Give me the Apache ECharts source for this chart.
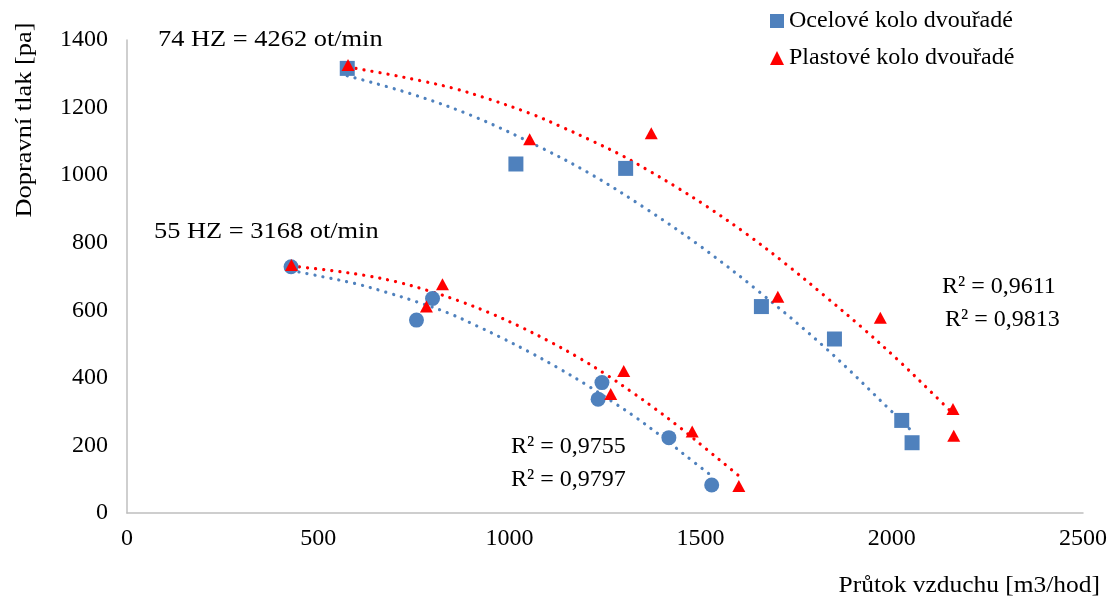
<!DOCTYPE html>
<html>
<head>
<meta charset="utf-8">
<title>Dopravní tlak – průtok vzduchu</title>
<script src="https://cdn.jsdelivr.net/npm/echarts@6/dist/echarts.min.js"></script>
<style>
  html, body { margin: 0; padding: 0; background: #fff; }
  #chart { width: 1112px; height: 604px; }
</style>
</head>
<body>
<div id="chart"></div>
<script>
// Measured points: air flow [m3/hod] vs. delivery pressure [pa]
const steel74X = [576, 1017, 1304, 1659, 1850, 2026, 2053];
const steel74Y = [1316, 1033, 1020, 611, 515, 274, 208];
const plastic74X = [578, 1053, 1371, 1702, 1970, 2160, 2162];
const plastic74Y = [1326, 1106, 1124, 640, 578, 308, 229];
const steel55X = [429, 757, 799, 1232, 1242, 1417, 1529];
const steel55Y = [729, 571, 635, 337, 386, 223, 83];
const plastic55X = [430, 783, 825, 1265, 1299, 1478, 1600];
const plastic55Y = [734, 611, 677, 352, 420, 241, 80];

// Polynomial trend lines, sampled along each curve
const steel74TrendX = [576, 742, 904, 1078, 1213, 1358, 1499, 1654, 1833, 2003, 2051];
const steel74TrendY = [1294, 1241, 1175, 1084, 1003, 900, 790, 654, 482, 297, 244];
const plastic74TrendX = [578, 686, 770, 854, 936, 1058, 1138, 1215, 1293, 1368, 1442, 1514, 1620, 1724, 1824, 1923, 2018, 2112, 2160];
const plastic74TrendY = [1320, 1298, 1279, 1257, 1229, 1181, 1142, 1102, 1059, 1011, 961, 909, 826, 736, 643, 548, 451, 348, 294];
const steel55TrendX = [429, 513, 597, 679, 760, 842, 920, 977, 1053, 1128, 1202, 1274, 1328, 1396, 1464, 1529];
const steel55TrendY = [718, 699, 679, 653, 624, 591, 551, 520, 476, 429, 379, 326, 285, 228, 167, 110];
const plastic55TrendX = [430, 538, 623, 706, 788, 870, 951, 1029, 1106, 1181, 1254, 1324, 1377, 1447, 1513, 1580, 1600];
const plastic55TrendY = [731, 717, 703, 684, 658, 627, 591, 551, 507, 460, 409, 355, 312, 252, 191, 129, 110];

// Axis ranges
const xMin = 0, xMax = 2500, xStep = 500;
const yMin = 0, yMax = 1400, yStep = 200;

// Text
const seriesNames = ['Ocelové kolo dvouřadé', 'Plastové kolo dvouřadé'];
const xTitle = 'Průtok vzduchu [m3/hod]';
const yTitle = 'Dopravní tlak [pa]';
const speed74 = '74 HZ = 4262 ot/min';
const speed55 = '55 HZ = 3168 ot/min';
const r2Labels = ['R² = 0,9611', 'R² = 0,9813', 'R² = 0,9755', 'R² = 0,9797'];

const BLUE = '#4F81BD';
const RED = '#FF0000';
const FONT = '"Liberation Serif", "Times New Roman", serif';
const FONT_SIZE = 24;
const pairs = (xs, ys) => xs.map((x, i) => [x, ys[i]]);

function trend(name, xs, ys, color) {
  return {
    name: name,
    type: 'line',
    data: pairs(xs, ys),
    smooth: 0.35,
    showSymbol: false,
    silent: true,
    z: 1,
    lineStyle: { color: color, width: 3.2, type: [0.1, 8], cap: 'round' }
  };
}

function points(name, xs, ys, symbol, size, color) {
  return {
    name: name,
    type: 'scatter',
    data: pairs(xs, ys),
    symbol: symbol,
    symbolSize: size,
    z: 3,
    itemStyle: { color: color, opacity: 1 }
  };
}

// Free-standing text; sx widens the glyphs slightly along the baseline
function textEl(x, y, text, align, sx, rotation) {
  return {
    type: 'text', x: x, y: y,
    scaleX: sx || 1,
    rotation: rotation || 0,
    style: {
      text: text, fill: '#000', font: FONT_SIZE + 'px ' + FONT,
      align: align || 'left', verticalAlign: 'middle'
    }
  };
}

const chart = echarts.init(document.getElementById('chart'), null, { renderer: 'canvas' });

chart.setOption({
  backgroundColor: '#fff',
  animation: false,
  textStyle: { fontFamily: FONT },
  grid: { left: 127, right: 29, top: 40, bottom: 91, containLabel: false },
  legend: {
    orient: 'vertical',
    left: 770, top: 9,
    padding: 0,
    itemWidth: 14, itemHeight: 14, itemGap: 13,
    selectedMode: false,
    textStyle: { fontFamily: FONT, fontSize: FONT_SIZE, color: '#000', lineHeight: 24 },
    data: [
      { name: seriesNames[0], icon: 'rect', itemStyle: { color: BLUE } },
      { name: seriesNames[1], icon: 'triangle', itemStyle: { color: RED } }
    ]
  },
  xAxis: {
    type: 'value', min: xMin, max: xMax, interval: xStep,
    axisLine: { show: true, lineStyle: { color: '#BFBFBF', width: 1.5 } },
    axisTick: { show: false },
    splitLine: { show: false },
    axisLabel: {
      color: '#000', fontFamily: FONT, fontSize: FONT_SIZE, margin: 14,
      formatter: v => String(v)
    }
  },
  yAxis: {
    type: 'value', min: yMin, max: yMax, interval: yStep,
    axisLine: { show: true, lineStyle: { color: '#BFBFBF', width: 1.5 } },
    axisTick: { show: false },
    splitLine: { show: false },
    axisLabel: {
      color: '#000', fontFamily: FONT, fontSize: FONT_SIZE, margin: 19,
      formatter: v => String(v)
    }
  },
  graphic: [
    textEl(1100, 586, xTitle, 'right', 1.06),
    textEl(25, 120, yTitle, 'center', 1.1, Math.PI / 2),
    textEl(158, 40, speed74, 'left', 1.1),
    textEl(154, 232, speed55, 'left', 1.1),
    textEl(942, 287, r2Labels[0]),
    textEl(945, 320, r2Labels[1]),
    textEl(511, 447, r2Labels[2]),
    textEl(511, 480, r2Labels[3])
  ],
  series: [
    trend('trend-steel-74', steel74TrendX, steel74TrendY, BLUE),
    trend('trend-plastic-74', plastic74TrendX, plastic74TrendY, RED),
    trend('trend-steel-55', steel55TrendX, steel55TrendY, BLUE),
    trend('trend-plastic-55', plastic55TrendX, plastic55TrendY, RED),
    points(seriesNames[0], steel74X, steel74Y, 'rect', 15, BLUE),
    points(seriesNames[0], steel55X, steel55Y, 'circle', 15, BLUE),
    points(seriesNames[1], plastic74X, plastic74Y, 'triangle', [13, 12], RED),
    points(seriesNames[1], plastic55X, plastic55Y, 'triangle', [13, 12], RED)
  ]
});
</script>
</body>
</html>
